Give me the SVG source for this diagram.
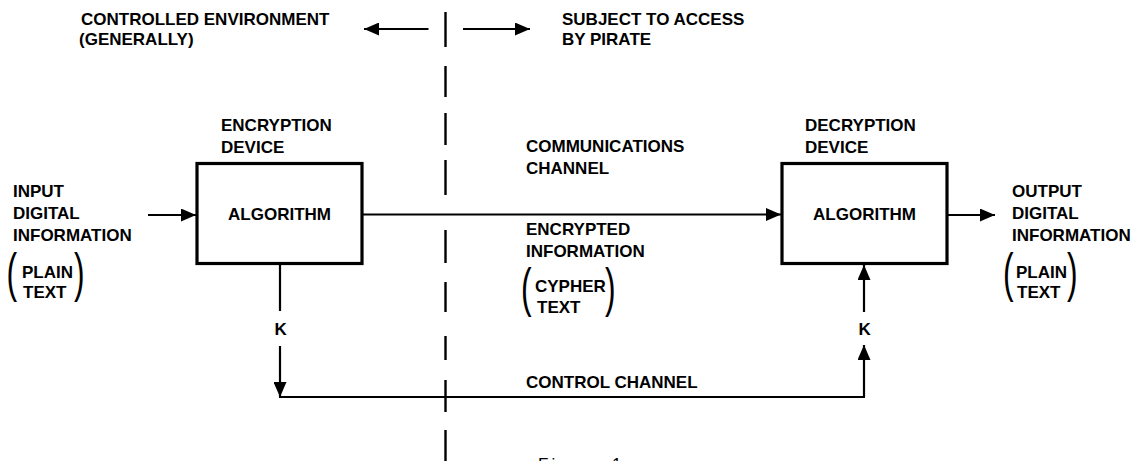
<svg xmlns="http://www.w3.org/2000/svg" width="1135" height="461" viewBox="0 0 1135 461">
<defs>
<style>
.t{font-family:"Liberation Sans",Arial,Helvetica,sans-serif;font-weight:bold;font-size:17px;fill:#000}
.p{font-family:"Liberation Sans",Arial,Helvetica,sans-serif;font-weight:normal;font-size:53px;fill:#000}
.fig{font-family:"Liberation Sans",Arial,sans-serif;font-size:17px;fill:#000;letter-spacing:3px}
.box{fill:#fff;stroke:#000;stroke-width:3.2}
.ln{fill:none;stroke:#000;stroke-width:2.2}
.dash{fill:none;stroke:#000;stroke-width:2.4}
</style>
<marker id="ah" markerUnits="userSpaceOnUse" markerWidth="15" markerHeight="13" refX="15" refY="6.5" orient="auto">
<path d="M0,0 L15,6.5 L0,13 z" fill="#000"/>
</marker>
</defs>
<rect width="1135" height="461" fill="#fff"/>

<g id="boundary">
<text class="t" x="81" y="25">CONTROLLED ENVIRONMENT</text>
<text class="t" x="79" y="45">(GENERALLY)</text>
<text class="t" x="562" y="25">SUBJECT TO ACCESS</text>
<text class="t" x="562" y="45">BY PIRATE</text>
<path class="dash" d="M445.5,12 V47 M445.5,66 V97 M445.5,113 V145 M445.5,160 V195 M445.5,230 V263 M445.5,282 V312 M445.5,336 V360 M445.5,380 V412 M445.5,430 V461"/>
</g>

<g id="input">
<text class="t" x="13" y="197">INPUT</text>
<text class="t" x="13" y="219">DIGITAL</text>
<text class="t" x="13" y="241">INFORMATION</text>
<text class="p" transform="translate(6.5,290.6) scale(0.6,1)">(</text>
<text class="t" x="22" y="278">PLAIN</text>
<text class="t" x="23" y="298">TEXT</text>
<text class="p" transform="translate(74,290.6) scale(0.6,1)">)</text>
</g>

<g id="encryption">
<text class="t" x="221" y="131">ENCRYPTION</text>
<text class="t" x="221" y="153">DEVICE</text>
<rect class="box" x="197" y="163.5" width="165" height="100"/>
<text class="t" x="279.5" y="220" text-anchor="middle">ALGORITHM</text>
</g>

<g id="channel">
<text class="t" x="526" y="152">COMMUNICATIONS</text>
<text class="t" x="526" y="174">CHANNEL</text>
<text class="t" x="526" y="235">ENCRYPTED</text>
<text class="t" x="526" y="257">INFORMATION</text>
<text class="p" transform="translate(521,306) scale(0.6,1)">(</text>
<text class="t" x="535" y="292">CYPHER</text>
<text class="t" x="537" y="313">TEXT</text>
<text class="p" transform="translate(605,306) scale(0.6,1)">)</text>
</g>

<g id="decryption">
<text class="t" x="805" y="131">DECRYPTION</text>
<text class="t" x="805" y="153">DEVICE</text>
<rect class="box" x="782" y="163.5" width="165" height="100"/>
<text class="t" x="864.5" y="220" text-anchor="middle">ALGORITHM</text>
</g>

<g id="output">
<text class="t" x="1012" y="197">OUTPUT</text>
<text class="t" x="1012" y="219">DIGITAL</text>
<text class="t" x="1012" y="241">INFORMATION</text>
<text class="p" transform="translate(1003,290.6) scale(0.6,1)">(</text>
<text class="t" x="1016" y="278">PLAIN</text>
<text class="t" x="1017" y="298">TEXT</text>
<text class="p" transform="translate(1067,290.6) scale(0.6,1)">)</text>
</g>

<g id="control">
<text class="t" x="526" y="388">CONTROL CHANNEL</text>
<text class="t" x="274.5" y="335">K</text>
<text class="t" x="858.5" y="335">K</text>
</g>

<g id="connectors">
<line class="ln" x1="428.5" y1="29" x2="364" y2="29" marker-end="url(#ah)"/>
<line class="ln" x1="463" y1="29" x2="530" y2="29" marker-end="url(#ah)"/>
<line class="ln" x1="148" y1="215" x2="196" y2="215" marker-end="url(#ah)"/>
<line class="ln" x1="363" y1="214.5" x2="781" y2="214.5" marker-end="url(#ah)"/>
<line class="ln" x1="948" y1="215" x2="995" y2="215" marker-end="url(#ah)"/>
<line class="ln" x1="280" y1="265" x2="280" y2="311"/>
<line class="ln" x1="280" y1="346" x2="280" y2="397" marker-end="url(#ah)"/>
<line class="ln" x1="279" y1="397" x2="865" y2="397"/>
<line class="ln" x1="864" y1="397" x2="864" y2="345" marker-end="url(#ah)"/>
<line class="ln" x1="864" y1="312" x2="864" y2="265" marker-end="url(#ah)"/>
</g>

<g id="caption">
<text class="fig" x="538" y="470">Figure 1</text>
</g>
</svg>
